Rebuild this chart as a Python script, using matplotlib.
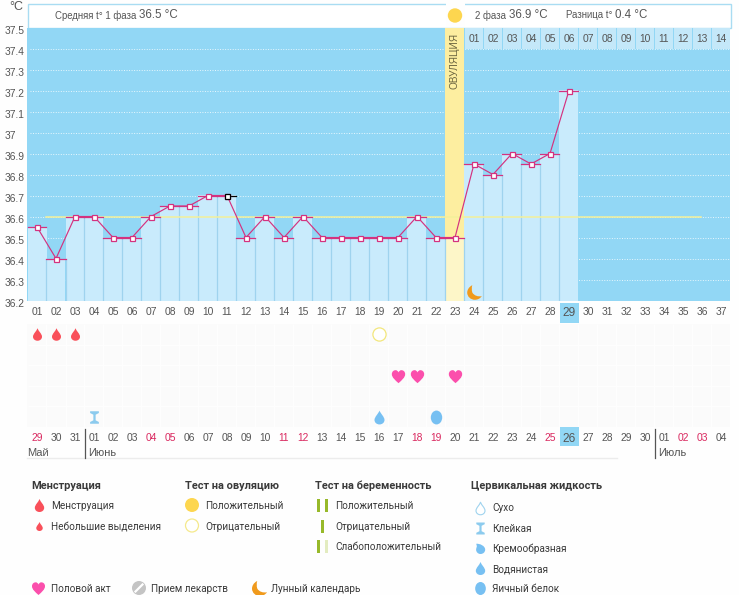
import matplotlib
matplotlib.use("Agg")
import matplotlib.pyplot as plt
from matplotlib.patches import Rectangle, Circle
from matplotlib.path import Path
from matplotlib.transforms import ScaledTranslation, Affine2D
import numpy as np

W, H = 739, 595

# chart data
days = list(range(1, 30))
temps = [36.55, 36.4, 36.6, 36.6, 36.5, 36.5, 36.6, 36.65, 36.65, 36.7,
         36.7, 36.5, 36.6, 36.5, 36.6, 36.5, 36.5, 36.5, 36.5, 36.5,
         36.6, 36.5, 36.5, 36.85, 36.8, 36.9, 36.85, 36.9, 37.2]
cycle_labels = ["%02d" % d for d in range(1, 38)]
phase_labels = ["%02d" % d for d in range(1, 15)]
date_labels = ["29", "30", "31"] + ["%02d" % d for d in range(1, 31)] + ["01", "02", "03", "04"]
red_dates = [1, 7, 8, 14, 15, 21, 22, 28, 35, 36]
y_ticks = [36.2, 36.3, 36.4, 36.5, 36.6, 36.7, 36.8, 36.9, 37.0, 37.1, 37.2, 37.3, 37.4, 37.5]
y_tick_labels = ["36.2", "36.3", "36.4", "36.5", "36.6", "36.7", "36.8", "36.9", "37", "37.1", "37.2", "37.3", "37.4", "37.5"]
mean_temp = 36.6
ovulation_day = 23
selected_day = 11
today_col = 29
moon_day = 24

# event rows
menstruation_days = [1, 2, 3]
negative_test_days = [19]
love_days = [20, 21, 23]
sticky_days = [4]
watery_days = [19]
eggwhite_days = [22]

BLUE = "#92d7f5"
BAR = "#c9ebfc"
SEP = "#9fd3ee"
PINK = "#d4327f"
TEXT = "#555555"
LEG = "#3a3a3a"
RED = "#f9505a"
HEART = "#fb4fac"
FLUID = "#77c0f2"
ORANGE = "#f09a1c"
YEL = "#fdd64f"
GREEN = "#97b92a"

NUM_FONT = ["Liberation Sans", "DejaVu Sans"]
LEG_FONT = ["Roboto", "DejaVu Sans"]
plt.rcParams["font.family"] = NUM_FONT


def curve(verts):
    codes = [Path.MOVETO] + [Path.CURVE4] * (len(verts) - 2) + [Path.CLOSEPOLY]
    return Path(verts, codes)


drop = curve([(0, 1), (0.15, 0.55), (0.72, 0.1), (0.72, -0.35),
              (0.72, -0.75), (0.38, -1), (0, -1),
              (-0.38, -1), (-0.72, -0.75), (-0.72, -0.35),
              (-0.72, 0.1), (-0.15, 0.55), (0, 1), (0, 1)])
heart = curve([(0, -1), (-0.5, -0.55), (-1, -0.15), (-1, 0.35),
               (-1, 0.8), (-0.65, 0.95), (-0.45, 0.95),
               (-0.22, 0.95), (-0.07, 0.8), (0, 0.6),
               (0.07, 0.8), (0.22, 0.95), (0.45, 0.95),
               (0.65, 0.95), (1, 0.8), (1, 0.35),
               (1, -0.15), (0.5, -0.55), (0, -1), (0, -1)])
moon = curve([(-0.3, 1), (-0.85, 0.75), (-1, 0.25), (-1, 0),
              (-1, -0.6), (-0.5, -1), (0.05, -1),
              (0.45, -1), (0.8, -0.8), (1, -0.5),
              (0.5, -0.6), (-0.05, -0.45), (-0.3, 0),
              (-0.4, 0.35), (-0.4, 0.7), (-0.3, 1), (-0.3, 1)])
hourglass = Path([(-0.7, 1), (0.7, 1), (0.7, 0.72), (0.18, 0.45), (0.18, -0.45),
                  (0.7, -0.72), (0.7, -1), (-0.7, -1), (-0.7, -0.72), (-0.18, -0.45),
                  (-0.18, 0.45), (-0.7, 0.72), (-0.7, 1)])
oval = Path.unit_circle().transformed(Affine2D().scale(0.82, 1))
cream = curve([(-0.8, 0.85), (-0.1, 0.95), (0.85, 0.45), (0.85, -0.2),
               (0.85, -0.7), (0.45, -1), (0, -1),
               (-0.45, -1), (-0.8, -0.65), (-0.8, -0.2),
               (-0.8, 0.15), (-0.5, 0.3), (-0.8, 0.85), (-0.8, 0.85)])

fig = plt.figure(figsize=(W / 100, H / 100), dpi=100, facecolor="#fefefe")


def px_axes(x0, y0, x1, y1, **kw):
    return fig.add_axes([x0 / W, 1 - y1 / H, (x1 - x0) / W, (y1 - y0) / H], **kw)


# page layer in pixel coordinates, under the chart
page = px_axes(0, 0, W, H, zorder=0)
page.set_xlim(0, W)
page.set_ylim(H, 0)
page.axis("off")


def ptext(x, y, s, size=7.4, color=TEXT, **kw):
    kw.setdefault("va", "center")
    page.text(x, y, s, fontsize=size, color=color, **kw)


def picon(x, y, marker, px, color, **kw):
    page.plot([x], [y], marker=marker, ms=px * 0.72, mfc=color, mec=kw.pop("mec", "none"),
              mew=kw.pop("mew", 0), ls="none", **kw)


# header strip
page.add_patch(Rectangle((27.5, 3.5), 703, 24, fc="white", ec="#a9dcf2", lw=1))
page.add_patch(Rectangle((445.5, 3), 19, 24, fc="#fefefe", ec="none"))
page.add_patch(Circle((455, 15.5), 7.2, fc=YEL, ec="none"))
ptext(55, 15.5, "Средняя t° 1 фаза", 6.9)
ptext(139, 15.5, "36.5 °C", 8.3)
ptext(475, 15.5, "2 фаза", 6.9)
ptext(509, 15.5, "36.9 °C", 8.3)
ptext(565.5, 15.5, "Разница t°", 6.9)
ptext(615, 15.5, "0.4 °C", 8.3)
ptext(9, 7.5, "°C", 9)

# highlights behind the day labels
page.add_patch(Rectangle((560, 303), 18.5, 20, fc=BLUE, ec="none"))
page.add_patch(Rectangle((560, 427), 18.5, 19, fc=BLUE, ec="none"))

# temperature chart
ax = px_axes(27.5, 27.5, 730.5, 300.5, zorder=2)
ax.set_xlim(0.5, 37.5)
ax.set_ylim(36.2, 37.5)
ax.set_facecolor(BLUE)
for s in ax.spines.values():
    s.set_visible(False)

ax.hlines(y_ticks[1:-1], 0.65, 37.5, colors="#e8f7fd", lw=0.7, linestyles=(0, (1, 1.6)), zorder=1)
ax.axvspan(ovulation_day - 0.5, ovulation_day + 0.5, color="#fdeea0", lw=0, zorder=2)

t = np.array(temps)
d = np.array(days)
bar_colors = ["#fdf6c8" if x == ovulation_day else BAR for x in days]
ax.bar(d, t - 36.2, bottom=36.2, width=1, color=bar_colors, lw=0, zorder=3)
ax.vlines(d[:-1] + 0.5, 36.2, np.minimum(t[:-1], t[1:]), colors=SEP, lw=0.9, zorder=4)

ax.bar(range(24, 38), 0.1, bottom=37.4, width=0.94, color="#c4e8f9", lw=0, zorder=3)
for i, lab in enumerate(phase_labels):
    ax.text(24 + i, 37.447, lab, ha="center", va="center", fontsize=7.4, color=TEXT, zorder=5)

ax.plot([2 - 0.5, 36 - 0.5 + 0.45], [mean_temp, mean_temp], color="#f3f09a", lw=1.1, zorder=5)
ax.text(ovulation_day, 37.34, "ОВУЛЯЦИЯ", rotation=90, ha="center", va="center",
        fontsize=7.2, color="#6b6540", zorder=5)

for x, v in zip(days, temps):
    if x == selected_day:
        ax.plot([x - 0.5, x], [v, v], color=PINK, lw=0.9, zorder=6)
        ax.plot([x, x + 0.5], [v, v], color="black", lw=0.9, zorder=6)
    else:
        ax.plot([x - 0.5, x + 0.5], [v, v], color=PINK, lw=0.9, zorder=6)
ax.plot(days, temps, color=PINK, lw=0.85, zorder=7, marker="s", ms=3.6, mfc="white", mec=PINK, mew=0.9)
ax.plot([selected_day], [temps[selected_day - 1]], marker="s", ms=3.6, mfc="white", mec="black", mew=0.9, zorder=8)
ax.plot([moon_day], [36.24], marker=moon, ms=10.5, mfc=ORANGE, mec="none", zorder=8)

ax.set_yticks(y_ticks)
ax.set_yticklabels(y_tick_labels, ha="left", fontsize=7.4, color=TEXT)
ax.tick_params(axis="y", length=0, pad=16.5)
shift = ScaledTranslation(0, -2 / 72, fig.dpi_scale_trans)
for lab in ax.get_yticklabels():
    lab.set_transform(lab.get_transform() + shift)
ax.set_xticks(range(1, 38))
ax.set_xticklabels(cycle_labels, fontsize=7.4, color=TEXT)
ax.tick_params(axis="x", length=0, pad=5)
ax.get_xticklabels()[today_col - 1].set_fontsize(8.6)

# events grid
ev = px_axes(27.5, 324, 730.5, 427, zorder=1)
ev.set_xlim(0.5, 37.5)
ev.set_ylim(4.5, -0.5)
ev.set_facecolor("#fbfbfb")
for s in ev.spines.values():
    s.set_visible(False)
ev.vlines(np.arange(1.5, 37.5), -0.5, 4.5, colors="#fefefe", lw=0.8)
ev.hlines(np.arange(0.5, 4.5), 0.5, 37.5, colors="#fefefe", lw=0.8)
ev.plot(menstruation_days, [0] * 3, ls="none", marker=drop, ms=9, mfc=RED, mec="none")
ev.plot(negative_test_days, [0], ls="none", marker="o", ms=9.5, mfc="white", mec="#f3e77c", mew=0.9)
ev.plot(love_days, [2] * 3, ls="none", marker=heart, ms=9.6, mfc=HEART, mec="none")
ev.plot(sticky_days, [4], ls="none", marker=hourglass, ms=9, mfc="#8ccbee", mec="none")
ev.plot(watery_days, [4], ls="none", marker=drop, ms=10, mfc=FLUID, mec="none")
ev.plot(eggwhite_days, [4], ls="none", marker=oval, ms=10, mfc=FLUID, mec="none")
ev.set_yticks([])
ev.set_xticks(range(1, 38))
ev.set_xticklabels(date_labels, fontsize=7.4, color=TEXT)
ev.tick_params(axis="x", length=0, pad=4.5)
for i in red_dates:
    ev.get_xticklabels()[i - 1].set_color("#d9285f")
ev.get_xticklabels()[today_col - 1].set_fontsize(8.6)

# month separators
page.plot([27, 617], [458, 458], color="#ececec", lw=1)
page.plot([84.5, 84.5], [429, 458], color="#555555", lw=0.9)
page.plot([654.5, 654.5], [429, 458], color="#555555", lw=0.9)
ptext(27, 453, "Май", 8)
ptext(88.5, 453, "Июнь", 8)
ptext(658, 453, "Июль", 8)


# legend
def ltext(x, y, s, bold=False):
    ptext(x, y + 1, s, 7.9 if bold else 7.2, LEG, family=LEG_FONT, fontweight="bold" if bold else "normal")


ltext(31, 485, "Менструация", True)
picon(38.5, 505, drop, 13, RED)
ltext(51, 505, "Менструация")
picon(38.5, 526, drop, 9, RED)
ltext(51, 526, "Небольшие выделения")

ltext(185, 485, "Тест на овуляцию", True)
page.add_patch(Circle((192, 505), 7, fc=YEL, ec="none"))
ltext(205, 505, "Положительный")
page.add_patch(Circle((192, 525.5), 6.5, fc="white", ec="#f5e98c", lw=0.9))
ltext(205, 526, "Отрицательный")

ltext(315, 485, "Тест на беременность", True)
for x, c, y in [(318, GREEN, 505), (326.5, GREEN, 505), (322.5, GREEN, 526), (318, GREEN, 546), (326.5, "#e3ecc0", 546)]:
    page.add_patch(Rectangle((x - 1.5, y - 6.5), 3, 13, fc=c, ec="none"))
ltext(335, 505, "Положительный")
ltext(335, 526, "Отрицательный")
ltext(335, 546, "Слабоположительный")

ltext(471, 485, "Цервикальная жидкость", True)
page.plot([479.5], [508], ls="none", marker=drop, ms=9, mfc="white", mec="#9fd3ee", mew=0.8)
ltext(492, 507, "Сухо")
picon(479.5, 528, hourglass, 12, "#8ccbee")
ltext(492, 528, "Клейкая")
picon(479.5, 548, cream, 11, FLUID)
ltext(492, 548, "Кремообразная")
picon(479.5, 568, drop, 13, FLUID)
ltext(492, 568, "Водянистая")
picon(479.5, 588, oval, 13, FLUID)
ltext(492, 588, "Яичный белок")

picon(37.5, 588, heart, 13, HEART)
ltext(51, 588, "Половой акт")
page.add_patch(Circle((139, 588), 7, fc="#c4c4c4", ec="none"))
page.plot([135.5, 142.5], [591.5, 584.5], color="white", lw=1.6)
ltext(151, 588, "Прием лекарств")
picon(258.5, 588, moon, 15, ORANGE)
ltext(271, 588, "Лунный календарь")

fig.savefig("out.png", dpi=100, facecolor=fig.get_facecolor())
